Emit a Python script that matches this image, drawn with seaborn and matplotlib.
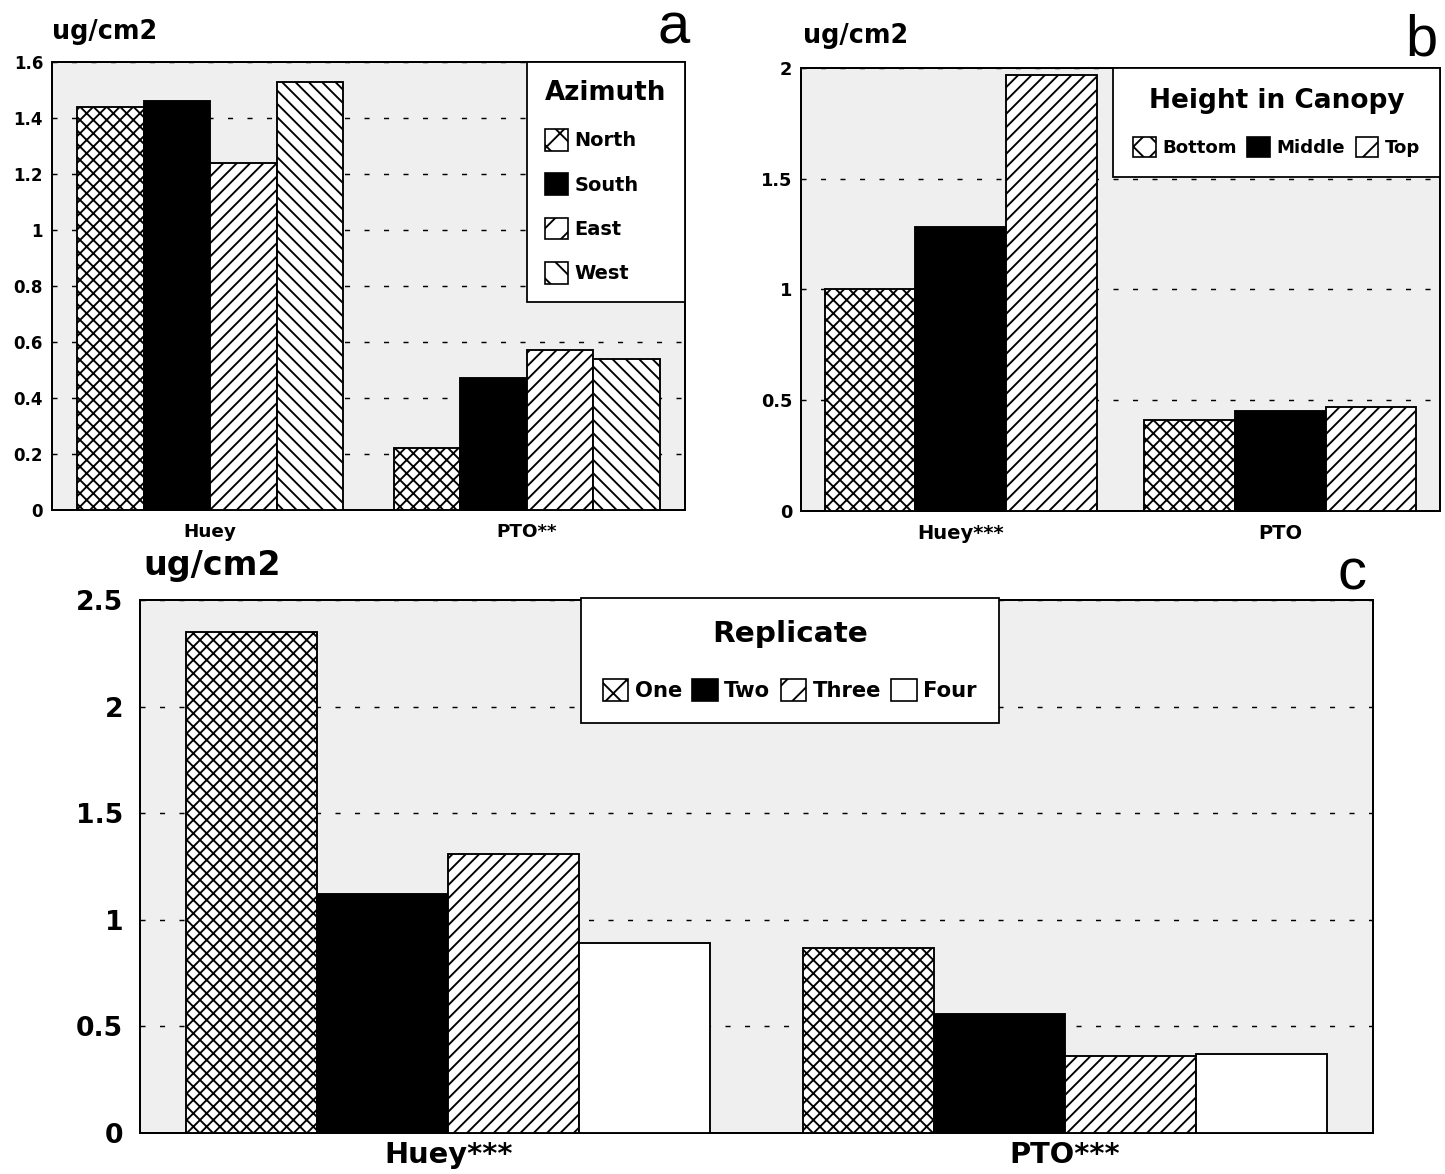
import matplotlib
matplotlib.use("Agg")
import matplotlib.pyplot as plt
import seaborn as sns
import pandas as pd
from matplotlib.patches import Patch

# ---------------- data ----------------
sites = ["Huey", "PTO"]

azimuth_levels = ["North", "South", "East", "West"]
azimuth_huey = [1.44, 1.46, 1.24, 1.53]
azimuth_pto = [0.22, 0.47, 0.57, 0.54]
azimuth_xticklabels = ["Huey", "PTO**"]
azimuth_yticks = [0, 0.2, 0.4, 0.6, 0.8, 1.0, 1.2, 1.4, 1.6]
azimuth_yticklabels = ["0", "0.2", "0.4", "0.6", "0.8", "1", "1.2", "1.4", "1.6"]

height_levels = ["Bottom", "Middle", "Top"]
height_huey = [1.00, 1.28, 1.97]
height_pto = [0.41, 0.45, 0.47]
height_xticklabels = ["Huey***", "PTO"]
height_yticks = [0, 0.5, 1, 1.5, 2]
height_yticklabels = ["0", "0.5", "1", "1.5", "2"]

replicate_levels = ["One", "Two", "Three", "Four"]
replicate_huey = [2.35, 1.12, 1.31, 0.89]
replicate_pto = [0.87, 0.56, 0.36, 0.37]
replicate_xticklabels = ["Huey***", "PTO***"]
replicate_yticks = [0, 0.5, 1, 1.5, 2, 2.5]
replicate_yticklabels = ["0", "0.5", "1", "1.5", "2", "2.5"]

# ---------------- style ----------------
sns.set_theme(style="white")
plt.rcParams["font.family"] = ["DejaVu Sans"]
plt.rcParams["hatch.linewidth"] = 1.7
plt.rcParams["hatch.color"] = "black"
for key in ["text.color", "axes.labelcolor", "xtick.color", "ytick.color"]:
    plt.rcParams[key] = "black"

DPI = 80
W, H = 1445, 1174
fig = plt.figure(figsize=(W / DPI, H / DPI), dpi=DPI)
fig.patch.set_facecolor("white")


def ax_at(left, top, right, bottom):
    return fig.add_axes([left / W, 1 - bottom / H, (right - left) / W, (bottom - top) / H])


STYLE_A = [("white", "xx"), ("black", ""), ("white", "//"), ("white", "\\\\")]
LEG_A = [("white", "x"), ("black", ""), ("white", "/"), ("white", "\\")]
STYLE_B = [("white", "xx"), ("black", ""), ("white", "//")]
LEG_B = [("white", "x"), ("black", ""), ("white", "/")]
STYLE_C = [("white", "xx"), ("black", ""), ("white", "//"), ("white", "")]
LEG_C = [("white", "x"), ("black", ""), ("white", "/"), ("white", "")]


def draw_panel(ax, levels, huey, pto, styles, xticklabels, yticks, yticklabels,
               ylim, width, ytick_size, xtick_size, ypad=8, xpad=12):
    df = pd.DataFrame({
        "site": [s for s in sites for _ in levels],
        "level": list(levels) * 2,
        "value": list(huey) + list(pto),
    })
    pal = {lvl: st[0] for lvl, st in zip(levels, styles)}
    sns.barplot(data=df, x="site", y="value", hue="level", order=sites,
                hue_order=levels, palette=pal, saturation=1, width=width,
                gap=0, edgecolor="black", linewidth=1.7, errorbar=None,
                legend=False, ax=ax)
    for cont, (fc, hatch) in zip(ax.containers, styles):
        for bar in cont:
            bar.set_hatch(hatch)
            bar.set_zorder(3)
    ax.set_facecolor("#efefef")
    ax.set_xlim(-0.5, 1.5)
    ax.set_ylim(*ylim)
    ax.set_yticks(yticks)
    ax.set_yticklabels(yticklabels, fontsize=ytick_size, fontweight="bold")
    ax.set_xticks([0, 1])
    ax.set_xticklabels(xticklabels, fontsize=xtick_size, fontweight="bold")
    ax.set_xlabel("")
    ax.set_ylabel("")
    ax.yaxis.grid(True, color="black", linestyle=(0, (3.5, 10)), linewidth=1.3)
    ax.xaxis.grid(False)
    ax.set_axisbelow(True)
    for sp in ax.spines.values():
        sp.set_visible(True)
        sp.set_color("black")
        sp.set_linewidth(1.8)
    ax.tick_params(axis="y", length=0, pad=ypad)
    ax.tick_params(axis="x", length=0, pad=xpad)


def make_legend(ax, levels, styles, title, fs, title_fs, **kw):
    handles = [Patch(facecolor=fc, edgecolor="black", hatch=h, linewidth=1.5)
               for fc, h in styles]
    leg = ax.legend(handles, levels, title=title,
                    prop={"size": fs, "weight": "bold"},
                    title_fontproperties={"size": title_fs, "weight": "bold"},
                    fancybox=False, framealpha=1, edgecolor="black",
                    borderaxespad=0, **kw)
    leg.get_frame().set_linewidth(1.6)
    leg.set_zorder(10)
    return leg


# ---------------- panel a ----------------
ax_a = ax_at(52, 62, 685, 510)
draw_panel(ax_a, azimuth_levels, azimuth_huey, azimuth_pto, STYLE_A,
           azimuth_xticklabels, azimuth_yticks, azimuth_yticklabels,
           (0, 1.6), 0.84, 15, 16.5)
make_legend(ax_a, azimuth_levels, LEG_A, "Azimuth", 17.4, 23.5,
            loc="upper right", bbox_to_anchor=(1, 1), ncols=1,
            alignment="left", borderpad=0.95, labelspacing=1.17,
            handlelength=1.2, handleheight=1.35, handletextpad=0.3)

# ---------------- panel b ----------------
ax_b = ax_at(801, 68, 1440, 511)
draw_panel(ax_b, height_levels, height_huey, height_pto, STYLE_B,
           height_xticklabels, height_yticks, height_yticklabels,
           (0, 2), 0.85, 16, 17.5)
make_legend(ax_b, height_levels, LEG_B, "Height in Canopy", 16.3, 23.7,
            loc="upper right", bbox_to_anchor=(1, 1), ncols=3,
            alignment="center", borderpad=1.1, labelspacing=1.3,
            handlelength=1.25, handleheight=1.3, handletextpad=0.35,
            columnspacing=0.6)

# ---------------- panel c ----------------
ax_c = ax_at(140, 600, 1373, 1133)
draw_panel(ax_c, replicate_levels, replicate_huey, replicate_pto, STYLE_C,
           replicate_xticklabels, replicate_yticks, replicate_yticklabels,
           (0, 2.5), 0.85, 24, 26, ypad=15, xpad=7)
make_legend(ax_c, replicate_levels, LEG_C, "Replicate", 19.0, 26.5,
            loc="upper center", bbox_to_anchor=(0.527, 1.004), ncols=4,
            alignment="center", borderpad=1.05, labelspacing=1.45,
            handlelength=1.2, handleheight=1.25, handletextpad=0.3,
            columnspacing=0.5)

# ---------------- unit labels & panel letters ----------------
def ftext(x, y, s, **kw):
    fig.text(x / W, 1 - y / H, s, **kw)

ftext(52, 39, "ug/cm2", fontsize=23, fontweight="bold", ha="left", va="baseline")
ftext(803, 43, "ug/cm2", fontsize=23, fontweight="bold", ha="left", va="baseline")
ftext(143, 575, "ug/cm2", fontsize=30, fontweight="bold", ha="left", va="baseline")

letter_kw = dict(fontsize=52, family=["Liberation Sans", "DejaVu Sans"],
                 ha="right", va="baseline")
ftext(690, 44, "a", **letter_kw)
ftext(1437, 55, "b", **letter_kw)
ftext(1367, 590, "c", **letter_kw)

fig.savefig("out.png", dpi=DPI, facecolor="white")
